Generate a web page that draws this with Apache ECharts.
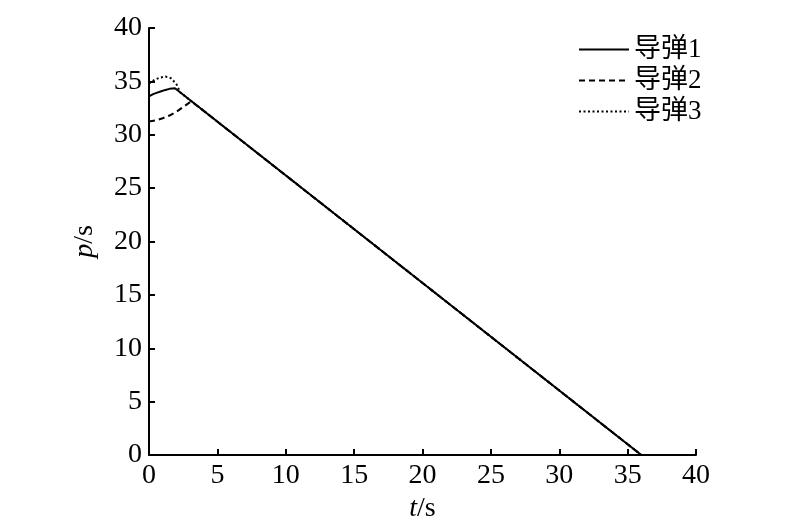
<!DOCTYPE html>
<html>
<head>
<meta charset="utf-8">
<script src="https://cdn.jsdelivr.net/npm/echarts@6/dist/echarts.min.js"></script>
<style>
  html, body { margin: 0; padding: 0; background: #fff; }
  #chart { width: 800px; height: 519px; }
</style>
</head>
<body>
<div id="chart"></div>
<script>
// 导弹1 / 导弹2 / 导弹3: time t (s) against p (s)
var names = ['导弹1', '导弹2', '导弹3'];
var t1 = [0, 0.3, 0.6, 0.9, 1.2, 1.5, 1.9, 36];
var p1 = [33.6, 33.8, 33.95, 34.08, 34.2, 34.3, 34.35, 0];
var t2 = [0, 0.5, 1.0, 1.5, 2.0, 2.5, 3.1, 36];
var p2 = [31.25, 31.35, 31.55, 31.8, 32.15, 32.6, 33.14, 0];
var t3 = [0, 0.4, 0.8, 1.2, 1.6, 2.0, 2.3, 36];
var p3 = [34.8, 35.15, 35.35, 35.45, 35.3, 34.75, 33.95, 0];
var ticks = [0, 5, 10, 15, 20, 25, 30, 35, 40];

function pairs(xs, ys) {
  var out = [];
  for (var i = 0; i < xs.length; i++) out.push([xs[i], ys[i]]);
  return out;
}

var font = '"Liberation Serif", "Noto Sans CJK SC", serif';
var chart = echarts.init(document.getElementById('chart'));

var axisCommon = {
  type: 'value',
  min: ticks[0],
  max: ticks[ticks.length - 1],
  interval: 5,
  splitLine: { show: false },
  axisLine: { lineStyle: { color: '#000', width: 2 } },
  axisTick: { inside: true, length: 6, lineStyle: { color: '#000', width: 2 } },
  axisLabel: { color: '#000', fontSize: 28, fontFamily: font, margin: 7 },
  nameLocation: 'middle'
};

var nameStyle = { color: '#000', fontSize: 28, fontFamily: font,
  rich: { i: { fontStyle: 'italic', fontSize: 28, fontFamily: font } } };

chart.setOption({
  animation: false,
  backgroundColor: '#fff',
  grid: { left: 149, right: 104, top: 28, bottom: 64, outerBoundsMode: 'none', containLabel: false },
  legend: {
    orient: 'vertical',
    left: 573,
    top: 31,
    itemWidth: 50,
    itemHeight: 14,
    itemGap: 4,
    itemStyle: { opacity: 0 },
    textStyle: { color: '#000', fontSize: 27, fontFamily: font },
    data: names
  },
  xAxis: Object.assign({}, axisCommon, {
    name: '{i|t}/s',
    nameGap: 34,
    nameTextStyle: nameStyle
  }),
  yAxis: Object.assign({}, axisCommon, {
    name: '{i|p}/s',
    nameGap: 50,
    nameTextStyle: nameStyle
  }),
  series: [
    { name: names[0], type: 'line', symbol: 'none', data: pairs(t1, p1),
      lineStyle: { color: '#000', width: 2, type: 'solid' }, itemStyle: { color: '#000' } },
    { name: names[1], type: 'line', symbol: 'none', data: pairs(t2, p2),
      lineStyle: { color: '#000', width: 2, type: [6, 4] }, itemStyle: { color: '#000' } },
    { name: names[2], type: 'line', symbol: 'none', data: pairs(t3, p3),
      lineStyle: { color: '#000', width: 2, type: [2, 2.5] }, itemStyle: { color: '#000' } }
  ]
});
window.addEventListener('resize', function () { chart.resize(); });
</script>
</body>
</html>
